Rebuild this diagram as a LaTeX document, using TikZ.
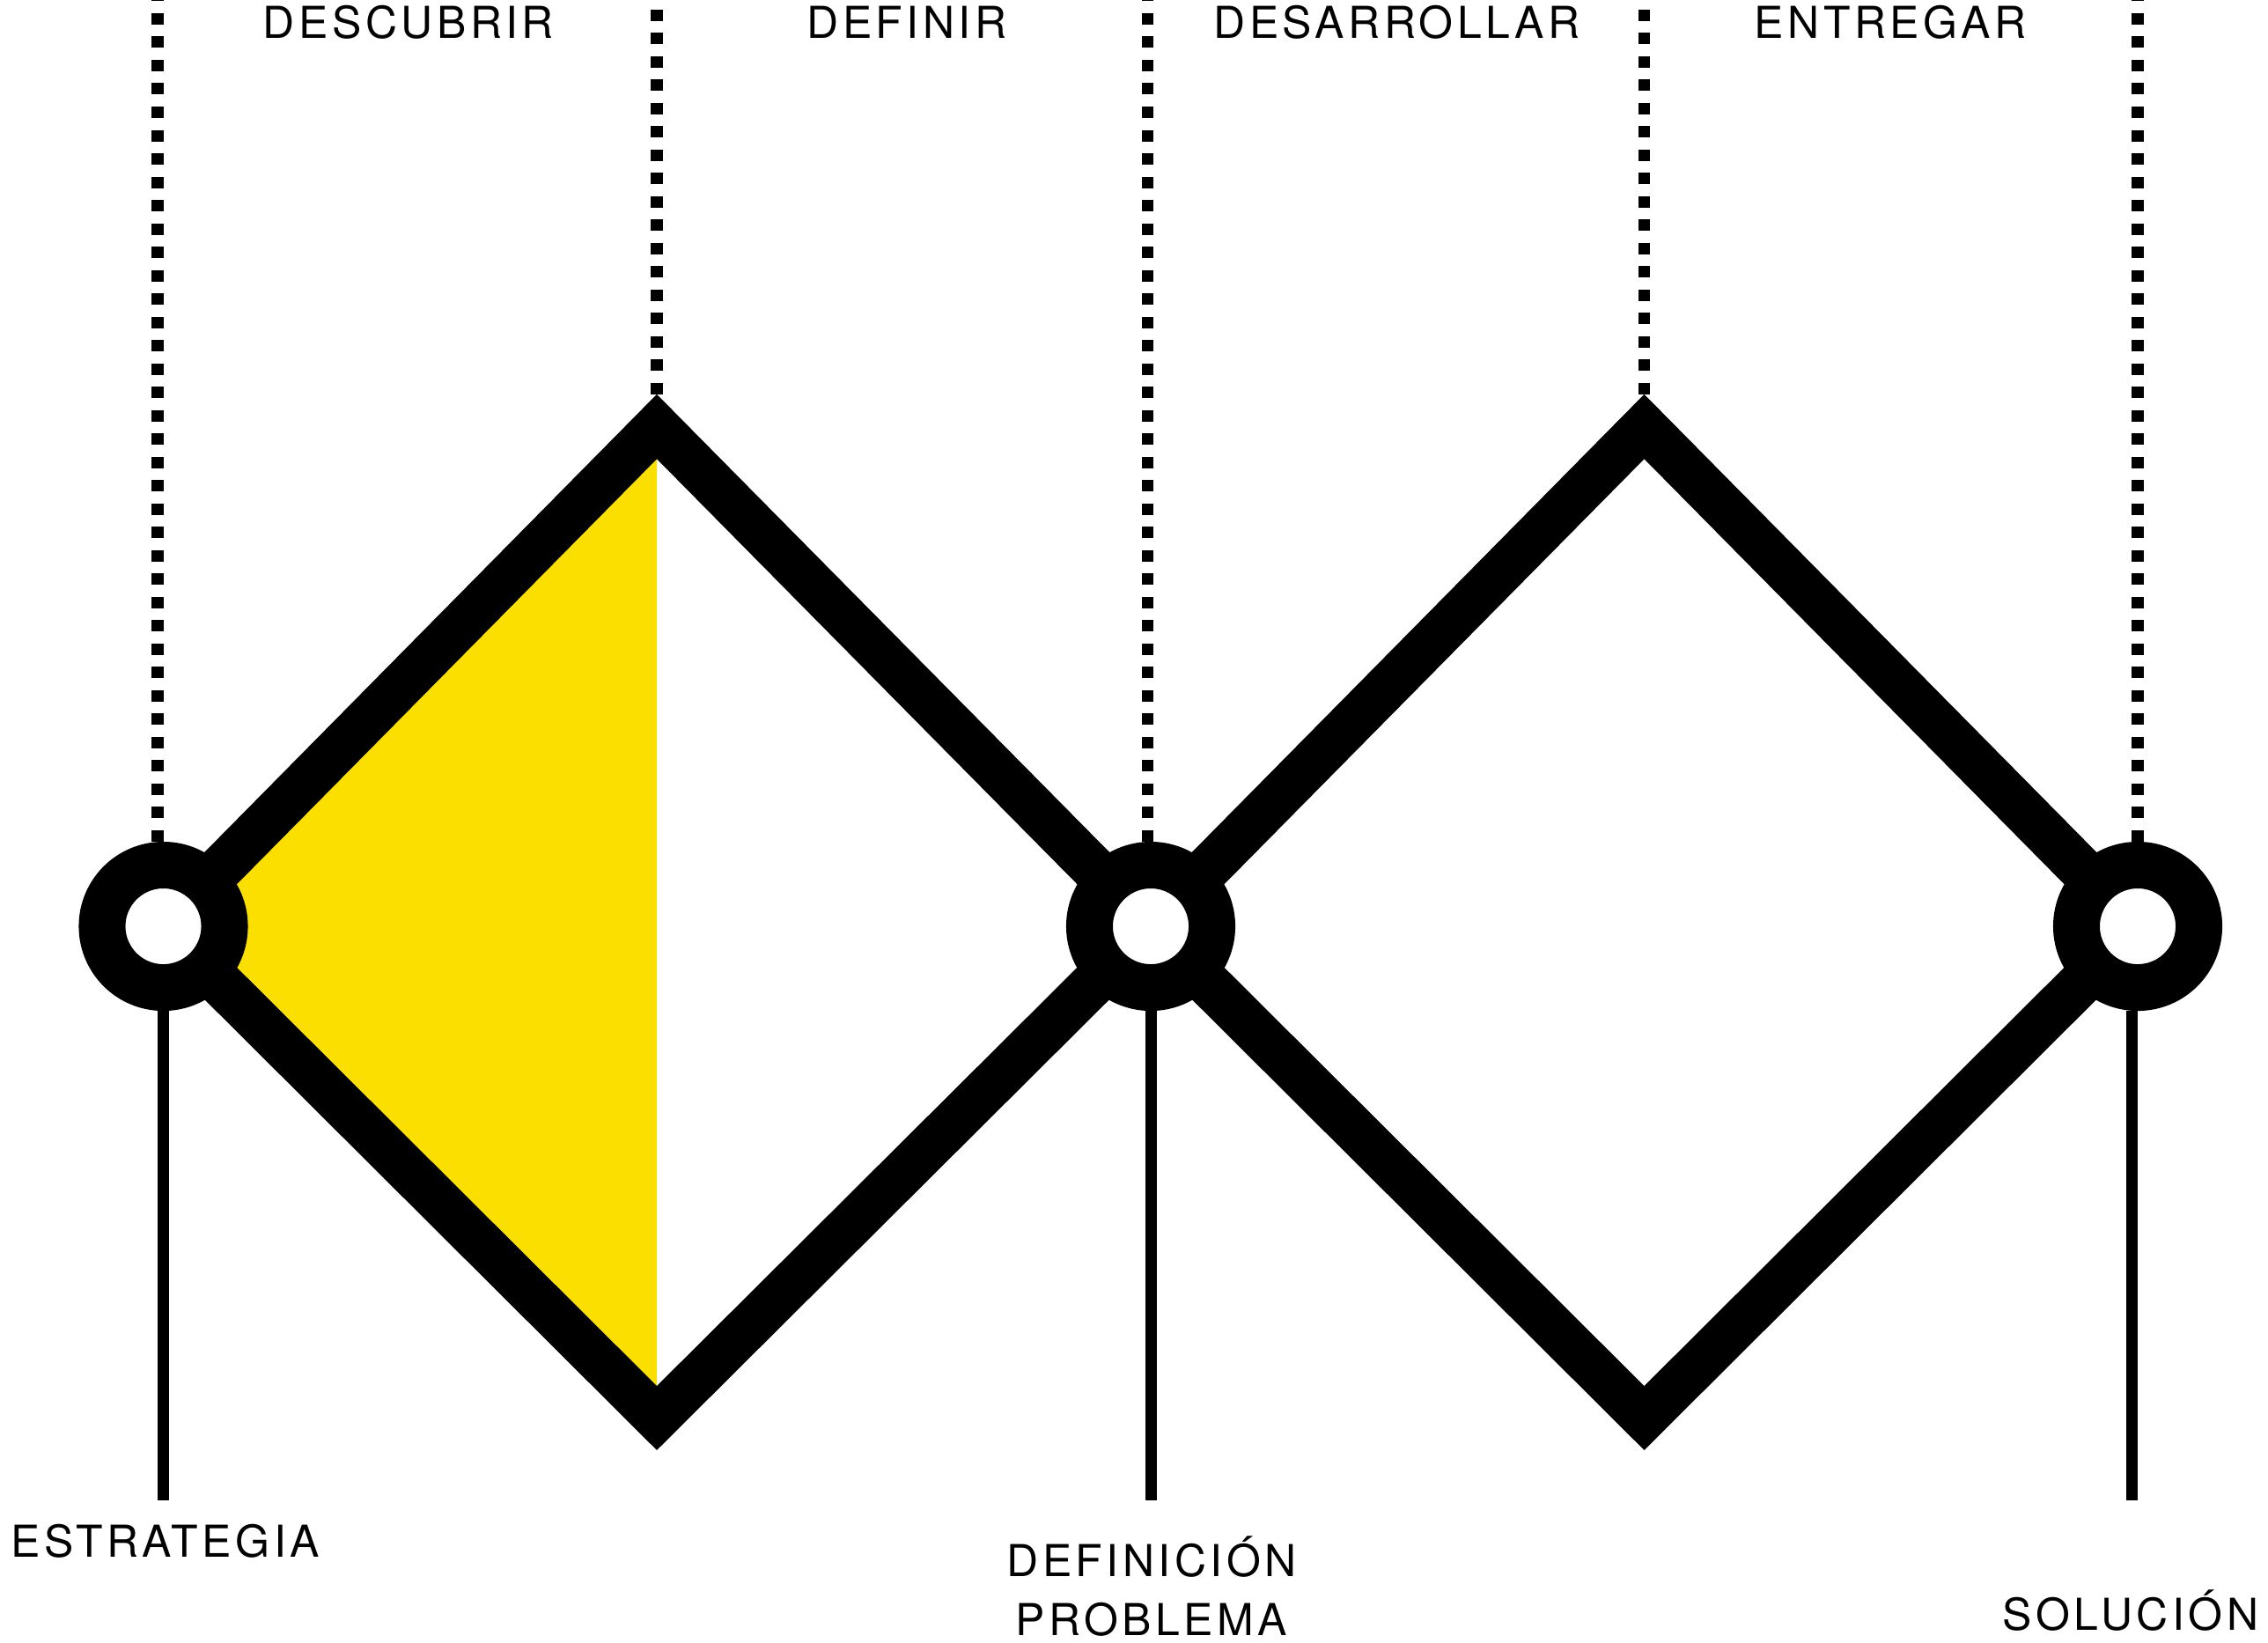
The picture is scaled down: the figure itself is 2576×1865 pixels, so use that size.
\documentclass[tikz,border=0pt]{standalone}
\usepackage{fontspec}
\newfontfamily\labelfont{TeX Gyre Heros}[LetterSpace=9]
\definecolor{amarillo}{RGB}{250,223,0}

\begin{document}
\begin{tikzpicture}[
    x=0.01cm, y=-0.01cm,
    every node/.style={font=\labelfont\fontsize{14.2}{18.8}\selectfont, align=center},
    hub/.style={circle, draw, fill=white, line width=0.53cm, minimum size=1.39cm, inner sep=0pt},
    rombo/.style={line width=0.516cm, line join=miter},
    dots/.style={line width=0.135cm, dash pattern=on 0.13cm off 0.135cm},
    stem/.style={line width=0.13cm},
    label/.style={anchor=base}
]
    \fill[white] (0,0) rectangle (2576,1865);
    \useasboundingbox (0,0) rectangle (2576,1865);

    % diamond vertices
    \coordinate (c1) at (185.5,1052);
    \coordinate (c2) at (1307,1052);
    \coordinate (c3) at (2428,1052);
    \coordinate (top1) at (746,484.5);
    \coordinate (bot1) at (746,1610.5);
    \coordinate (top2) at (1867.5,484.5);
    \coordinate (bot2) at (1867.5,1610.5);

    % ends of the vertical lines
    \coordinate (h1) at (179,0);
    \coordinate (h2) at (746,0);
    \coordinate (h3) at (1303.5,0);
    \coordinate (h4) at (1867.5,0);
    \coordinate (h5) at (2428,0);
    \coordinate (s1) at (185.5,1704);
    \coordinate (s2) at (1307,1704);
    \coordinate (s3) at (2421.5,1704);

    \fill[amarillo] (c1) -- (top1) -- (bot1) -- cycle;
    \draw[rombo] (c1) -- (top1) -- (c2) -- (bot1) -- cycle;
    \draw[rombo] (c2) -- (top2) -- (c3) -- (bot2) -- cycle;

    \node[hub] (estr) at (c1) {};
    \node[hub] (defn) at (c2) {};
    \node[hub] (sol) at (c3) {};

    \draw[dots] (h1 |- estr.north) -- (h1);
    \draw[dots] ([yshift=0.365cm]top1) -- (h2);
    \draw[dots] (h3 |- defn.north) -- (h3);
    \draw[dots] ([yshift=0.365cm]top2) -- (h4);
    \draw[dots] (h5 |- sol.north) -- (h5);

    \draw[stem] (s1 |- estr.south) -- (s1);
    \draw[stem] (s2 |- defn.south) -- (s2);
    \draw[stem] (s3 |- sol.south) -- (s3);

    \node[label] (descubrir) at (464,43) {DESCUBRIR};
    \node[label] (definir) at (1030,43) {DEFINIR};
    \node[label] (desarrollar) at (1586.5,43) {DESARROLLAR};
    \node[label] (entregar) at (2147,43) {ENTREGAR};

    \node[label] (estrategia) at (187.5,1768) {ESTRATEGIA};
    \node[label] (problema) at (1308,1857) {DEFINICIÓN\\PROBLEMA};
    \node[label] (solucion) at (2420,1851) {SOLUCIÓN};
\end{tikzpicture}
\end{document}
